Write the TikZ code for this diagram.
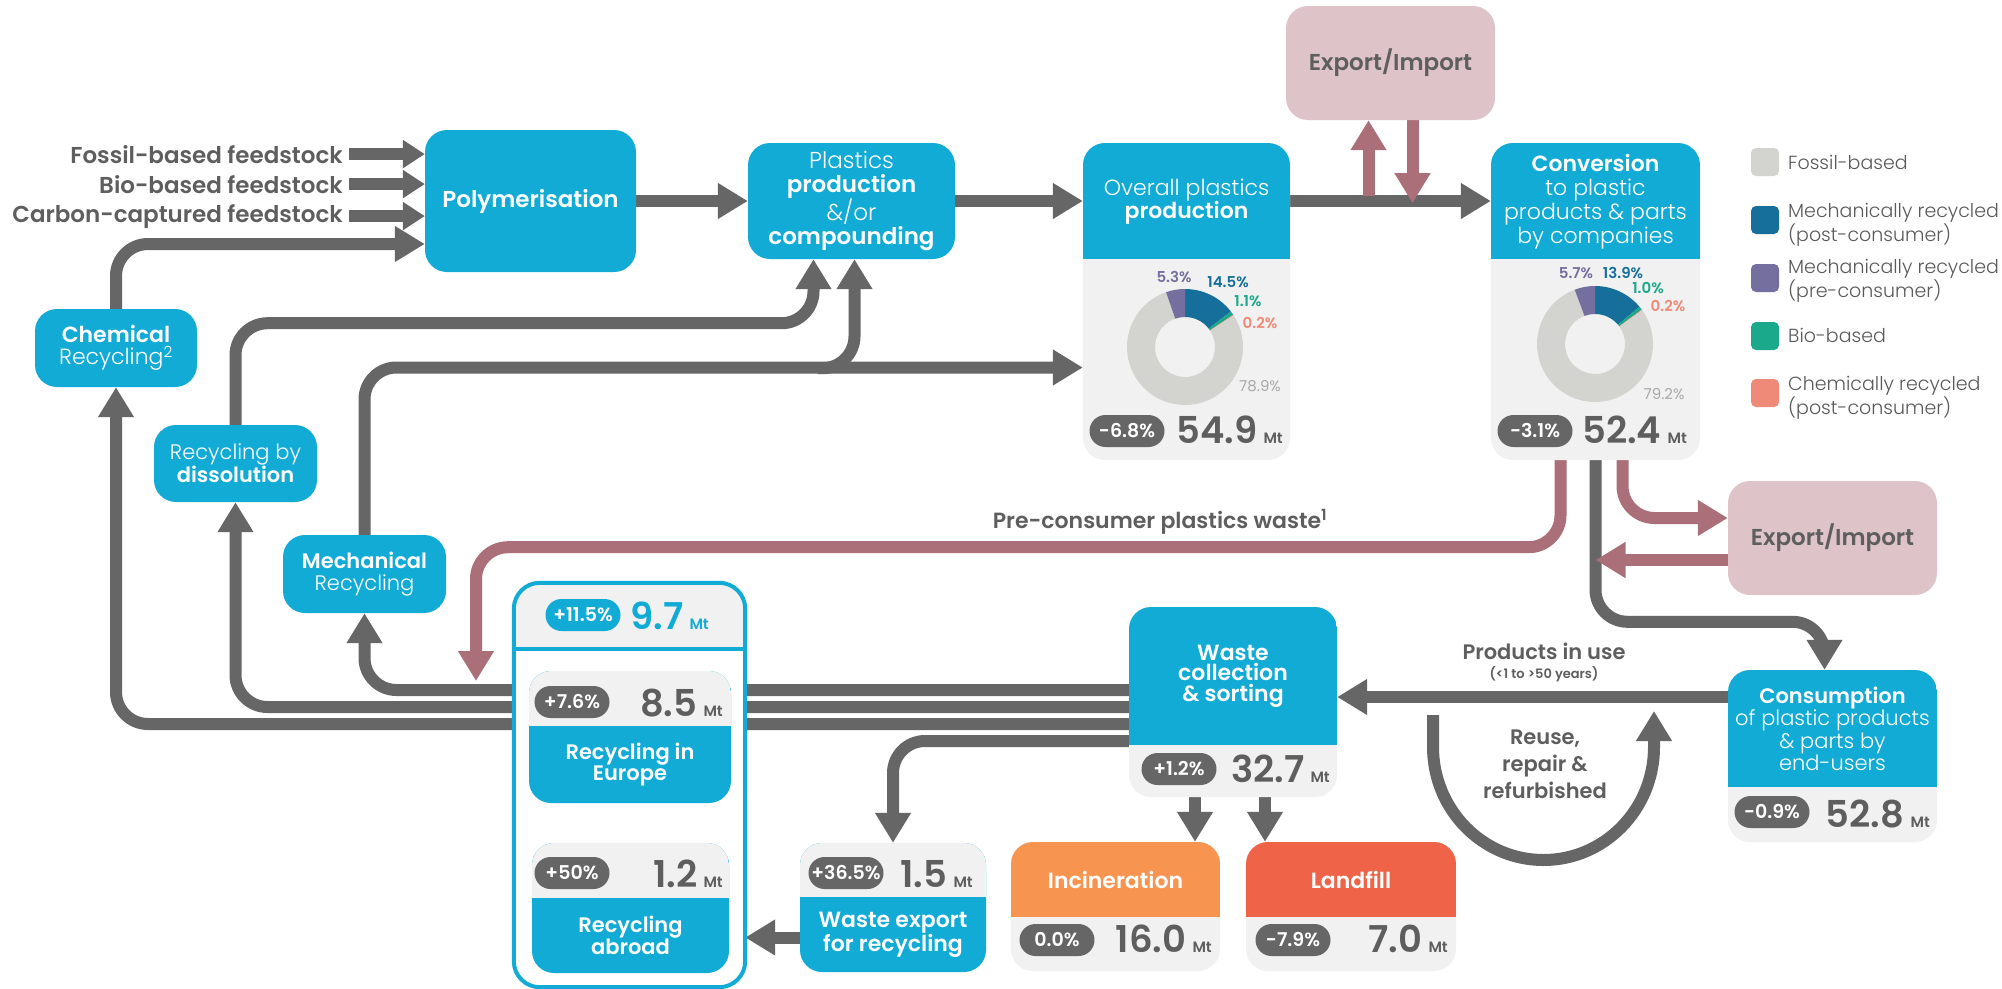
\documentclass[tikz,border=0pt]{standalone}
\usepackage{fontspec}
\setmainfont{Poppins}[BoldFont={Poppins SemiBold}]
\newfontfamily\plight{Poppins Light}
\usetikzlibrary{arrows.meta,calc,fit}
\pgfdeclarelayer{back}
\pgfdeclarelayer{bg}
\pgfsetlayers{back,bg,main}
\definecolor{cblue}{RGB}{18,171,213}
\definecolor{cgrey}{RGB}{102,102,102}
\definecolor{cbg}{RGB}{240,241,240}
\definecolor{cpinkbox}{RGB}{222,196,200}
\definecolor{cpink}{RGB}{171,111,121}
\definecolor{ctext}{RGB}{94,94,94}
\definecolor{cleg}{RGB}{90,90,90}
\definecolor{corange}{RGB}{247,149,80}
\definecolor{cred}{RGB}{239,100,73}
\definecolor{dfossil}{RGB}{211,211,207}
\definecolor{dmech}{RGB}{22,111,154}
\definecolor{dpre}{RGB}{117,111,160}
\definecolor{dbio}{RGB}{26,169,138}
\definecolor{dchem}{RGB}{240,138,120}
\definecolor{dfosstxt}{RGB}{168,168,168}
\newcommand\pl{\normalfont\plight}
\newcommand\pb{\normalfont\bfseries}
\newcommand\mt{\,{\fontsize{15}{15}\selectfont Mt}}
\newcommand\bx[6]{\node[fit={(#2,#3) (#4,#5)}, inner sep=0pt, fill=#6, rounded corners=22pt] (#1) {};}
\newcommand\tbx[8]{\bx{#1}{#2}{#3}{#4}{#5}{#8}%
  \begin{scope}\clip[rounded corners=22pt] (#2,#3) rectangle (#4,#5);\fill[#7] (#2,#3) rectangle (#4,#6);\end{scope}}
\newcommand\seg[4]{\fill[#4] ($(#1)+(#2:58pt)$) arc[start angle=#2, end angle=#3, radius=58pt] -- ($(#1)+(#3:30pt)$) arc[start angle=#3, end angle=#2, radius=30pt] -- cycle;}
\begin{document}
\begin{tikzpicture}[x=1pt,y=-1pt,
  wt/.style={text=white, align=center, inner sep=0pt},
  garrow/.style={draw=cgrey, line width=12pt, rounded corners=32pt, -{Triangle[length=30pt,width=34pt]}},
  farrow/.style={draw=cgrey, line width=12pt, -{Triangle[length=22pt,width=27pt]}},
  parrow/.style={draw=cpink, line width=12pt, rounded corners=32pt, -{Triangle[length=30pt,width=34pt]}},
  pill/.style={fill=cgrey, text=white, rounded corners=16pt, minimum width=75pt, minimum height=32pt, inner sep=0pt, font=\bfseries\fontsize{19}{19}\selectfont},
  num/.style={inner sep=0pt, anchor=base east, text=ctext, font=\bfseries\fontsize{37}{37}\selectfont},
  pct/.style={inner sep=0pt, font=\bfseries\fontsize{15}{15}\selectfont},
  fl/.style={inner sep=0pt, anchor=base east, text=ctext, font=\bfseries\fontsize{23}{23}\selectfont},
  lbl/.style={inner sep=0pt, text=ctext, align=center, font=\bfseries\fontsize{21}{26}\selectfont},
  legsq/.style={minimum size=28pt, inner sep=0pt, rounded corners=5pt},
  legt/.style={inner sep=0pt, anchor=west, align=left, text=cleg, font=\plight\fontsize{19}{22.5}\selectfont}
]
\path[use as bounding box] (0,0) rectangle (2002,988);
\begin{pgfonlayer}{back}
\fill[white] (0,0) rectangle (2002,988);
\end{pgfonlayer}

% ---------- boxes ----------
\bx{poly}{425}{130}{636}{272}{cblue}
\bx{pp}{748}{143}{955}{259}{cblue}
\tbx{ov}{1083}{143}{1290}{460}{259}{cblue}{cbg}
\tbx{conv}{1491}{143}{1700}{460}{259}{cblue}{cbg}
\bx{exa}{1286}{6}{1495}{120}{cpinkbox}
\bx{exb}{1728}{481}{1937}{595}{cpinkbox}
\tbx{cons}{1728}{670}{1937}{842}{787}{cblue}{cbg}
\tbx{wc}{1129}{607}{1337}{797}{745}{cblue}{cbg}
\tbx{wex}{800}{843}{986}{972}{897}{cbg}{cblue}
\tbx{inc}{1011}{842}{1220}{971}{917}{corange}{cbg}
\tbx{lf}{1246}{842}{1456}{971}{917}{cred}{cbg}
\node[fit={(514,583) (745,987)}, inner sep=0pt, fill=white, rounded corners=26pt] (rec) {};
\begin{scope}\clip[rounded corners=26pt] (514,583) rectangle (745,987);\fill[cbg] (514,583) rectangle (745,649);\end{scope}
\draw[cblue, line width=4pt] (rec.west |- 0,649) -- (rec.east |- 0,649);
\draw[cblue, line width=4pt, rounded corners=26pt] (rec.north west) rectangle (rec.south east);
\tbx{eur}{529}{671}{731}{803}{726}{cbg}{cblue}
\tbx{abr}{532}{843}{729}{973}{898}{cbg}{cblue}
\bx{chem}{35}{309}{197}{387}{cblue}
\bx{diss}{154}{425}{317}{502}{cblue}
\bx{mech}{283}{535}{446}{613}{cblue}

% ---------- box texts ----------
\node[wt, font=\bfseries\fontsize{23}{23}\selectfont] (poly-t) at (poly) {Polymerisation};
\node[wt, font=\fontsize{23}{24}\selectfont] (pp-t) at (pp) {{\pl Plastics}\\{\pb production}\\{\pl \&/or}\\{\pb compounding}};
\node[wt, font=\fontsize{22}{23}\selectfont] (ov-t) at (1186.5,202) {{\pl Overall plastics}\\{\pb production}};
\node[wt, font=\fontsize{22}{24}\selectfont] (conv-t) at (1595.5,202) {{\pb Conversion}\\{\pl to plastic}\\{\pl products \& parts}\\{\pl by companies}};
\node[wt, font=\fontsize{21}{22.5}\selectfont] (cons-t) at (1832.5,729) {{\pb Consumption}\\{\pl of plastic products}\\{\pl \& parts by}\\{\pl end-users}};
\node[wt, font=\bfseries\fontsize{22}{20.5}\selectfont] (wc-t) at (1233,676) {Waste\\collection\\\& sorting};
\node[wt, font=\bfseries\fontsize{22}{21}\selectfont] (wex-t) at (893,934.5) {Waste export\\for recycling};
\node[wt, font=\bfseries\fontsize{22}{22}\selectfont] (inc-t) at (1115.5,879.5) {Incineration};
\node[wt, font=\bfseries\fontsize{22}{22}\selectfont] (lf-t) at (1351,879.5) {Landfill};
\node[wt, font=\bfseries\fontsize{21}{20}\selectfont] (eur-t) at (630,764.5) {Recycling in\\Europe};
\node[wt, font=\bfseries\fontsize{21}{20}\selectfont] (abr-t) at (630.5,935.5) {Recycling\\abroad};
\node[wt, font=\fontsize{22}{22}\selectfont] (chem-t) at (116,348) {{\pb Chemical}\\{\pl Recycling\textsuperscript{2}}};
\node[wt, font=\fontsize{21}{21}\selectfont] (diss-t) at (235.5,463.5) {{\pl Recycling by}\\{\pb dissolution}};
\node[wt, font=\fontsize{21}{22}\selectfont] (mech-t) at (364.5,574) {{\pb Mechanical}\\{\pl Recycling}};
\node[inner sep=0pt, text=ctext, font=\bfseries\fontsize{23}{23}\selectfont] (exa-t) at (exa) {Export/Import};
\node[inner sep=0pt, text=ctext, font=\bfseries\fontsize{23}{23}\selectfont] (exb-t) at (exb) {Export/Import};

% ---------- pills and numbers ----------
\node[pill] (p-ov) at (1127,431) {-6.8\%};
\node[pill] (p-conv) at (1535,431) {-3.1\%};
\node[pill] (p-cons) at (1772,812) {-0.9\%};
\node[pill] (p-wc) at (1179,769) {+1.2\%};
\node[pill] (p-wex) at (846,873) {+36.5\%};
\node[pill] (p-inc) at (1057,940) {0.0\%};
\node[pill] (p-lf) at (1293,940) {-7.9\%};
\node[pill, fill=cblue] (p-rec) at (583,615) {+11.5\%};
\node[pill] (p-eur) at (572,702) {+7.6\%};
\node[pill] (p-abr) at (572,873) {+50\%};
\node[num] (n-ov) at (1283,443) {54.9\mt};
\node[num] (n-conv) at (1687,443) {52.4\mt};
\node[num] (n-cons) at (1930,827) {52.8\mt};
\node[num] (n-wc) at (1330,782) {32.7\mt};
\node[num] (n-wex) at (973,887) {1.5\mt};
\node[num] (n-inc) at (1212,952) {16.0\mt};
\node[num] (n-lf) at (1448,952) {7.0\mt};
\node[num, text=cblue] (n-rec) at (709,629) {9.7\mt};
\node[num] (n-eur) at (723,716) {8.5\mt};
\node[num] (n-abr) at (723,887) {1.2\mt};

% ---------- donuts ----------
\coordinate (d1) at (1185,347);
\seg{d1}{90}{37.8}{dmech}
\seg{d1}{37.8}{33.84}{dbio}
\seg{d1}{33.84}{33.12}{dchem}
\seg{d1}{33.12}{-250.92}{dfossil}
\seg{d1}{109.08}{90}{dpre}
\node[pct, text=dpre] (l1a) at (1174,277) {5.3\%};
\node[pct, text=dmech] (l1b) at (1228,282) {14.5\%};
\node[pct, text=dbio] (l1c) at (1248,301) {1.1\%};
\node[pct, text=dchem] (l1d) at (1260,323) {0.2\%};
\node[pct, text=dfosstxt, font=\fontsize{15}{15}\selectfont] (l1e) at (1260,386) {78.9\%};
\coordinate (d2) at (1595,344);
\seg{d2}{90}{39.96}{dmech}
\seg{d2}{39.96}{36.36}{dbio}
\seg{d2}{36.36}{35.64}{dchem}
\seg{d2}{35.64}{-249.48}{dfossil}
\seg{d2}{110.52}{90}{dpre}
\node[pct, text=dpre] (l2a) at (1576,273) {5.7\%};
\node[pct, text=dmech] (l2b) at (1623,273) {13.9\%};
\node[pct, text=dbio] (l2c) at (1648,288) {1.0\%};
\node[pct, text=dchem] (l2d) at (1668,306) {0.2\%};
\node[pct, text=dfosstxt, font=\fontsize{15}{15}\selectfont] (l2e) at (1664,394) {79.2\%};

% ---------- legend ----------
\node[legsq, fill=dfossil] (g1) at (1765,162) {};
\node[legsq, fill=dmech] (g2) at (1765,220) {};
\node[legsq, fill=dpre] (g3) at (1765,278) {};
\node[legsq, fill=dbio] (g4) at (1765,336) {};
\node[legsq, fill=dchem] (g5) at (1765,393) {};
\node[legt] (g1t) at (1788,162) {Fossil-based};
\node[legt] (g2t) at (1788,225) {Mechanically recycled\\(post-consumer)};
\node[legt] (g3t) at (1788,281) {Mechanically recycled\\(pre-consumer)};
\node[legt] (g4t) at (1788,335) {Bio-based};
\node[legt] (g5t) at (1788,398) {Chemically recycled\\(post-consumer)};

% ---------- labels ----------
\node[fl] (f1) at (343,163) {Fossil-based feedstock};
\node[fl] (f2) at (343,193) {Bio-based feedstock};
\node[fl] (f3) at (343,222) {Carbon-captured feedstock};
\node[lbl, font=\bfseries\fontsize{22}{22}\selectfont] (pcw) at (1160,522) {Pre-consumer plastics waste\textsuperscript{1}};
\node[lbl] (piu) at (1544,651) {Products in use};
\node[lbl, font=\bfseries\fontsize{13}{13}\selectfont] (piu2) at (1544,674) {(<1 to >50 years)};
\node[lbl, font=\bfseries\fontsize{21}{27}\selectfont] (reuse) at (1545,764) {Reuse,\\repair \&\\refurbished};
\coordinate (pctip) at (476,681);
\coordinate (ru1) at (1433,715);
\coordinate (ru2) at (1654,711);

% ---------- connectors ----------
\begin{pgfonlayer}{bg}
\draw[farrow] ($(f1.east)+(6,0)$) -- (f1.east -| poly.west);
\draw[farrow] ($(f2.east)+(6,0)$) -- (f2.east -| poly.west);
\draw[farrow] ($(f3.east)+(6,0)$) -- (f3.east -| poly.west);
\draw[garrow] (chem.north) |- ([yshift=-43pt]poly.west);
\draw[garrow] (poly.east) -- (pp.west);
\draw[garrow] (pp.east) -- (pp.east -| ov.west);
\draw[garrow] (pp.east -| ov.east) -- (pp.east -| conv.west);
\draw[parrow] ($(exa.south)+(-22,76)$) -- ($(exa.south)+(-22,0)$);
\draw[parrow] ($(exa.south)+(22,0)$) -- ($(exa.south)+(22,83)$);
\draw[garrow] (diss.north) |- ($(pp.south)+(-38,64)$) -- ([xshift=-38pt]pp.south);
\draw[garrow] (mech.north) |- ([yshift=-66pt]ov.west);
\draw[garrow] ($(pp.south)+(-34,109)$) -| ([xshift=3pt]pp.south);
\draw[garrow] ([yshift=12pt]wc.west) -| (mech.south);
\draw[garrow] ([yshift=-5pt]wc.west) -| (diss.south);
\draw[garrow] ([yshift=-22pt]wc.west) -| (chem.south);
\draw[garrow] ([yshift=-39pt]wc.west) -| (wex.north);
\draw[garrow] ([yshift=-30pt]wex.west) -- ($(rec.east |- wex.west)+(0,30)$);
\draw[garrow] ([xshift=-38pt]wc.south) -- ($(inc.north -| wc.south)+(-38,0)$);
\draw[garrow] ([xshift=32pt]wc.south) -- ($(lf.north -| wc.south)+(32,0)$);
\draw[garrow] ($(cons.west)+(0,-59)$) -- ($(wc.east |- cons.west)+(0,-59)$);
\draw[garrow] (conv.south) |- ($(cons.north)+(-8,-48)$) -- ([xshift=-8pt]cons.north);
\draw[garrow, sharp corners] (ru1) -- (1433,747) .. controls (1433,809.4) and (1482.5,860) .. (1543.5,860) .. controls (1604.5,860) and (1654,809.4) .. (1654,747) -- (ru2);
\draw[parrow] ($(conv.south)+(-35,0)$) -- ++(0,87) -| (pctip);
\draw[parrow] ($(conv.south)+(27,0)$) |- ([yshift=20pt]exb.west);
\draw[parrow] ([yshift=-22pt]exb.west) -- ($(conv.south |- exb.west)+(0,22)$);
\end{pgfonlayer}
\end{tikzpicture}
\end{document}
